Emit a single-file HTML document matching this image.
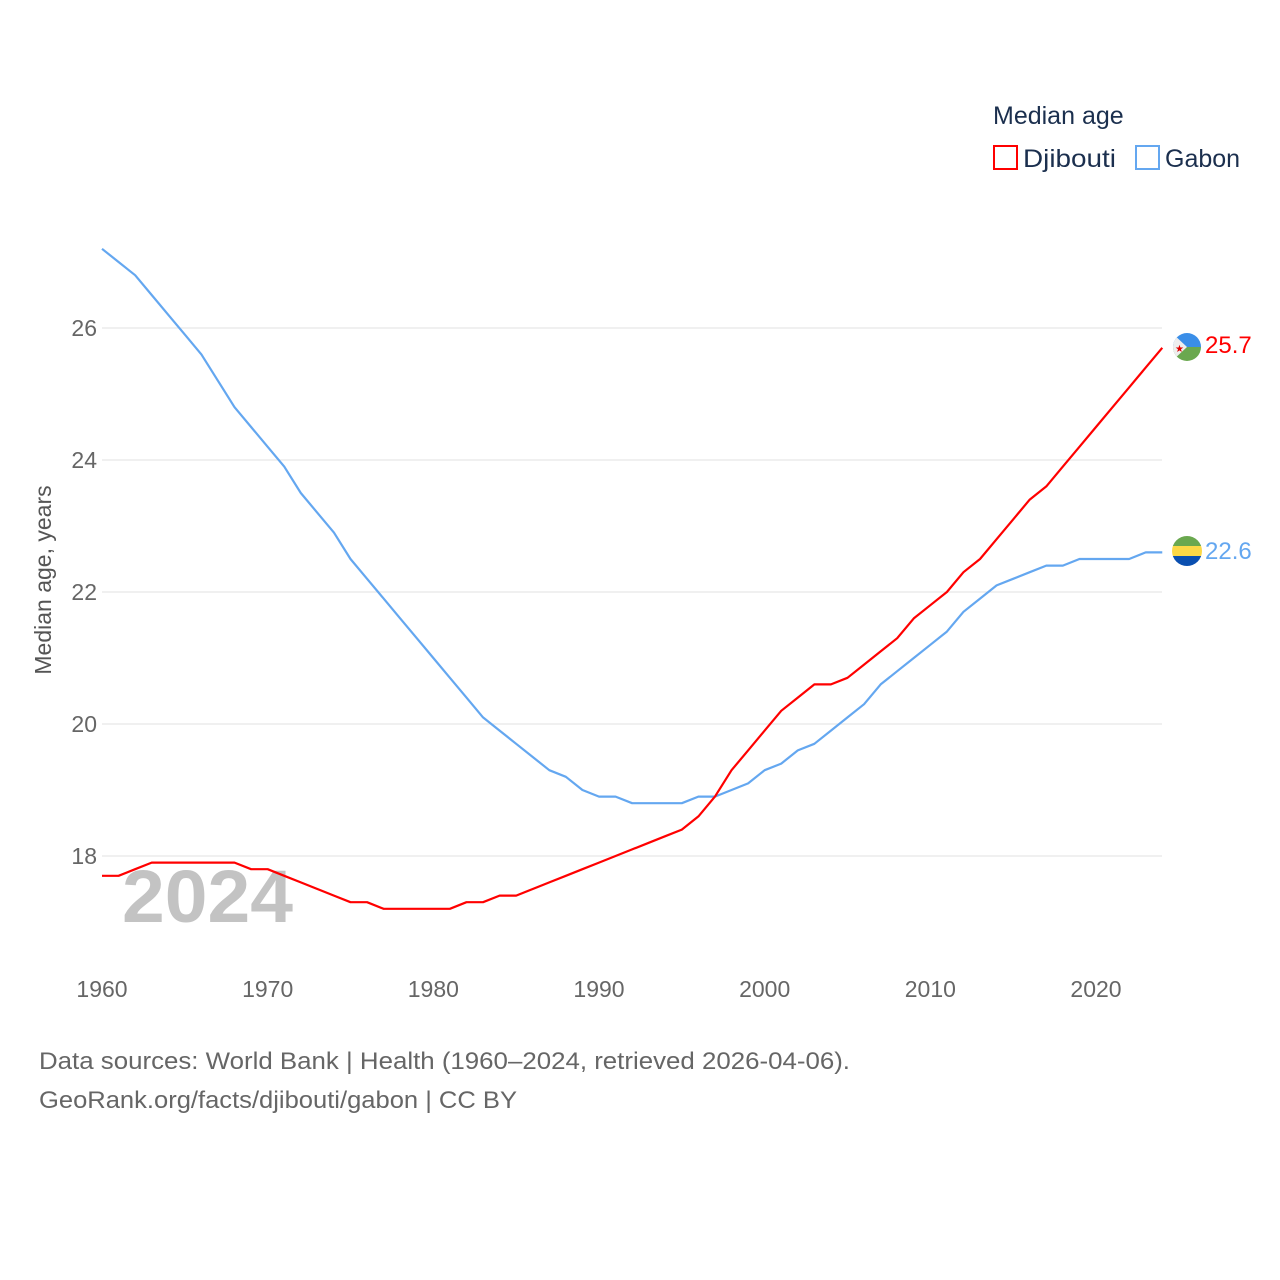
<!DOCTYPE html>
<html><head><meta charset="utf-8"><style>
body{margin:0;background:#fff;font-family:"Liberation Sans",sans-serif}
svg{display:block}
</style></head><body>
<svg id="c" width="1280" height="1280" viewBox="0 0 1280 1280">
<g id="grid"></g>
<text x="122" y="922" font-size="74" font-weight="bold" fill="#c3c3c3" textLength="171" lengthAdjust="spacingAndGlyphs">2024</text>
<g id="axes"></g>
<g id="lines"></g>
<text transform="translate(51,580) rotate(-90)" text-anchor="middle" font-size="23" fill="#555">Median age, years</text>
<g>
<text x="993" y="124" font-size="25" fill="#1b2f4e">Median age</text>
<g><rect x="994" y="146" width="23" height="23" fill="none" stroke="#f00" stroke-width="2"/><text x="1023" y="167" font-size="25" fill="#1b2f4e" textLength="93" lengthAdjust="spacingAndGlyphs">Djibouti</text></g>
<g><rect x="1136" y="146" width="23" height="23" fill="none" stroke="#64a7f0" stroke-width="2"/><text x="1165" y="167" font-size="25" fill="#1b2f4e">Gabon</text></g>
</g>
<g>
<clipPath id="cd"><circle cx="1187" cy="347" r="14"/></clipPath>
<g clip-path="url(#cd)"><rect x="1170" y="333" width="34" height="14" fill="#3a8ee8"/><rect x="1170" y="347" width="34" height="14" fill="#6aa84f"/><polygon points="1172,333 1187,347 1172,361" fill="#eee"/></g>
<text x="1175" y="352" font-size="10" fill="#d00">★</text>
</g>
<g>
<clipPath id="cg"><circle cx="1187" cy="551" r="15"/></clipPath>
<g clip-path="url(#cg)"><rect x="1170" y="536" width="34" height="10" fill="#6aa84f"/><rect x="1170" y="546" width="34" height="10" fill="#fcd846"/><rect x="1170" y="556" width="34" height="11" fill="#0a4fb0"/></g>
</g>
<text x="1205" y="353" font-size="24" fill="#f00">25.7</text>
<text x="1205" y="559" font-size="24" fill="#64a7f0">22.6</text>
<text x="39" y="1069" font-size="24" fill="#666" textLength="811" lengthAdjust="spacingAndGlyphs">Data sources: World Bank | Health (1960–2024, retrieved 2026-04-06).</text>
<text x="39" y="1108" font-size="24" fill="#666" textLength="478" lengthAdjust="spacingAndGlyphs">GeoRank.org/facts/djibouti/gabon | CC BY</text>
</svg>
<script>
const years=[];for(let y=1960;y<=2024;y++)years.push(y);
const gabon=[27.2,27.0,26.8,26.5,26.2,25.9,25.6,25.2,24.8,24.5,24.2,23.9,23.5,23.2,22.9,22.5,22.2,21.9,21.6,21.3,21.0,20.7,20.4,20.1,19.9,19.7,19.5,19.3,19.2,19.0,18.9,18.9,18.8,18.8,18.8,18.8,18.9,18.9,19.0,19.1,19.3,19.4,19.6,19.7,19.9,20.1,20.3,20.6,20.8,21.0,21.2,21.4,21.7,21.9,22.1,22.2,22.3,22.4,22.4,22.5,22.5,22.5,22.5,22.6,22.6];
const djibouti=[17.7,17.7,17.8,17.9,17.9,17.9,17.9,17.9,17.9,17.8,17.8,17.7,17.6,17.5,17.4,17.3,17.3,17.2,17.2,17.2,17.2,17.2,17.3,17.3,17.4,17.4,17.5,17.6,17.7,17.8,17.9,18.0,18.1,18.2,18.3,18.4,18.6,18.9,19.3,19.6,19.9,20.2,20.4,20.6,20.6,20.7,20.9,21.1,21.3,21.6,21.8,22.0,22.3,22.5,22.8,23.1,23.4,23.6,23.9,24.2,24.5,24.8,25.1,25.4,25.7];
const yTicks=[18,20,22,24,26];
const xTicks=[1960,1970,1980,1990,2000,2010,2020];
const NS="http://www.w3.org/2000/svg";
const xs=y=>102+(y-1960)*(994/60);
const ys=v=>328+(26-v)*66;
const grid=document.getElementById('grid'),axes=document.getElementById('axes'),lines=document.getElementById('lines');
yTicks.forEach(t=>{
 const l=document.createElementNS(NS,'line');
 
 
 l.setAttribute('x1',102);l.setAttribute('x2',1162);l.setAttribute('y1',ys(t));l.setAttribute('y2',ys(t));
 l.setAttribute('stroke','#e8e8e8');l.setAttribute('stroke-width','1.3');grid.appendChild(l);
 const tx=document.createElementNS(NS,'text');
 
 
 tx.setAttribute('x',97);tx.setAttribute('y',ys(t)+8);tx.setAttribute('text-anchor','end');
 tx.setAttribute('font-size','23');tx.setAttribute('fill','#666');tx.textContent=t;axes.appendChild(tx);
});
xTicks.forEach(t=>{
 const tx=document.createElementNS(NS,'text');
 
 
 tx.setAttribute('x',xs(t));tx.setAttribute('y',997);tx.setAttribute('text-anchor','middle');
 tx.setAttribute('font-size','23');tx.setAttribute('fill','#666');tx.textContent=t;axes.appendChild(tx);
});
function line(data,color,name){
 const p=document.createElementNS(NS,'polyline');
 
 
 p.setAttribute('points',data.map((v,i)=>xs(years[i])+','+ys(v)).join(' '));
 p.setAttribute('fill','none');p.setAttribute('stroke',color);p.setAttribute('stroke-width','2.2');
 p.setAttribute('stroke-linejoin','round');lines.appendChild(p);
}
line(gabon,'#64a7f0','gabon-line');
line(djibouti,'#f00','djibouti-line');
</script>
</body></html>
